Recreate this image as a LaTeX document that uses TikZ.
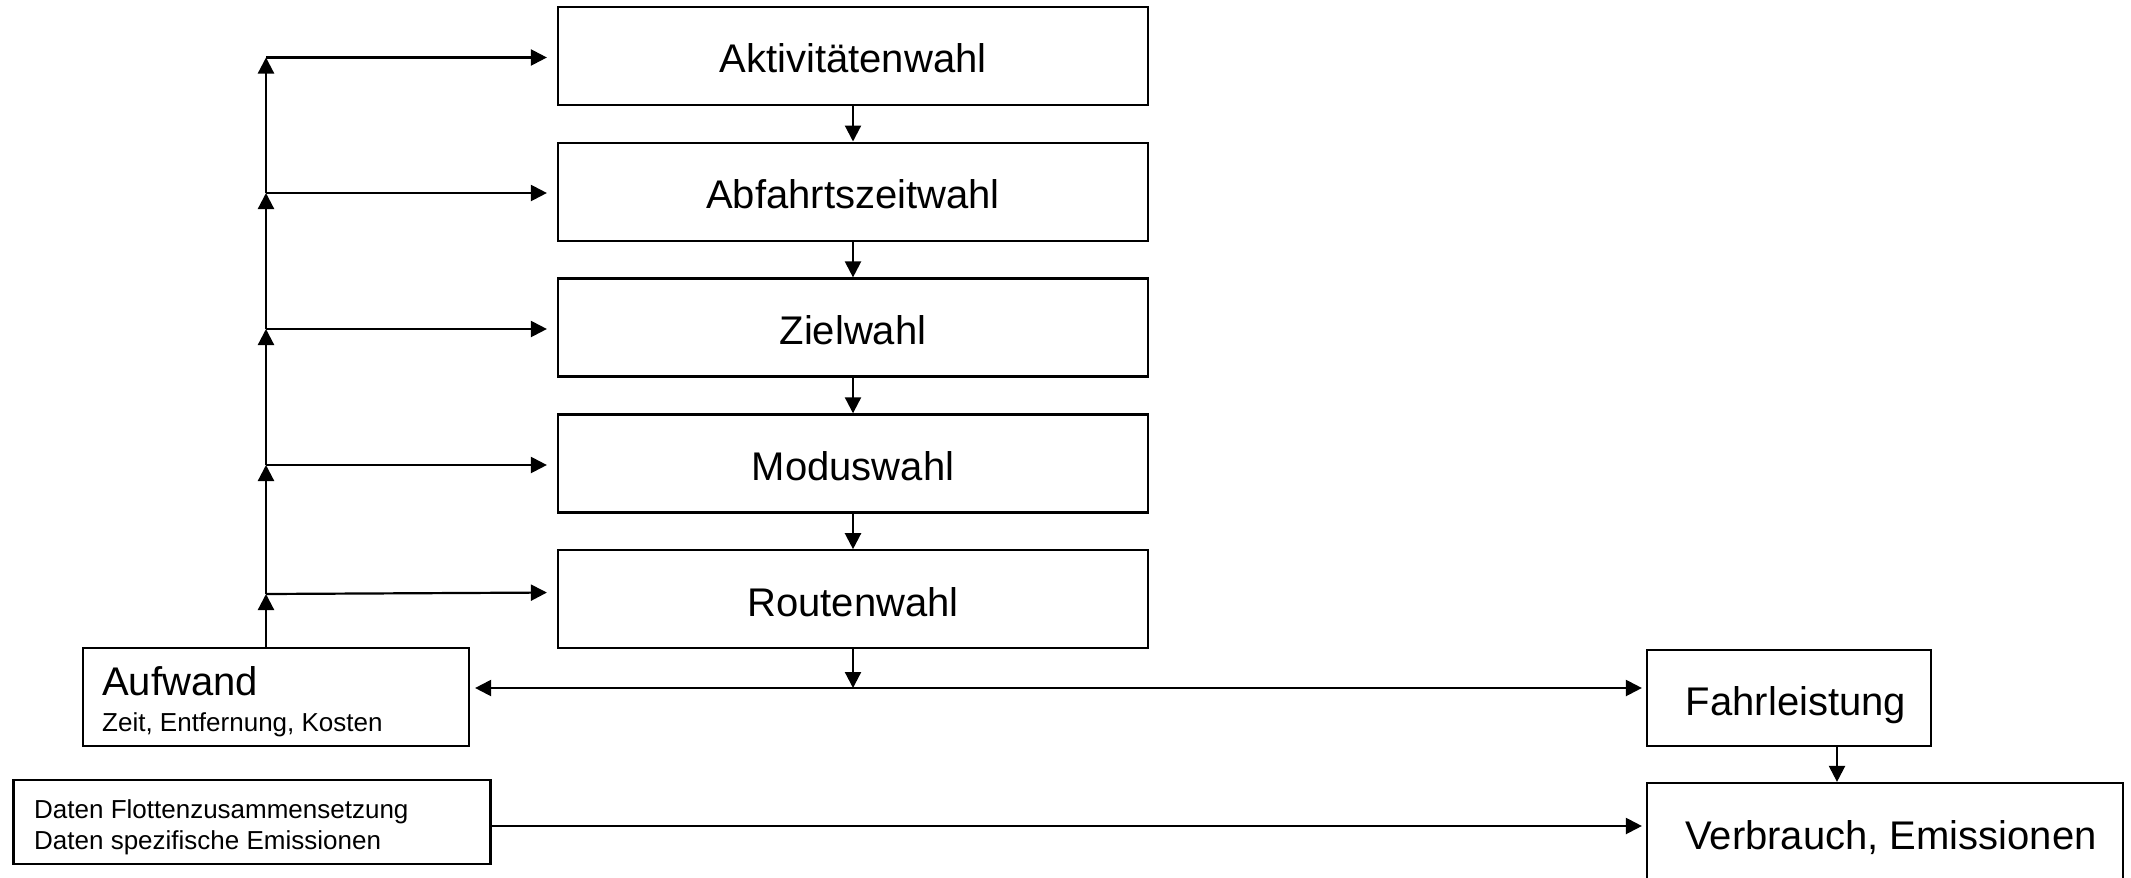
\documentclass[tikz,border=0pt]{standalone}
\usepackage{fontspec}
\setmainfont{Liberation Sans}
\usetikzlibrary{arrows.meta}
\begin{document}
\begin{tikzpicture}[x=1pt,y=-1pt,
  box/.style={draw, line width=2.2pt, inner sep=0pt},
  mainbox/.style={box, minimum width=590pt, minimum height=98pt, font=\fontsize{40}{48}\selectfont, text height=34pt, text depth=0pt},
  big/.style={font=\fontsize{40}{48}\selectfont, inner sep=0pt},
  small/.style={font=\fontsize{26}{31}\selectfont, inner sep=0pt},
  tip/.tip={Triangle[length=16pt,width=16pt]},
  arr/.style={line width=2.2pt, -tip},
  darr/.style={line width=2.2pt, tip-tip}]
\useasboundingbox (0,0) rectangle (2131,878);
\fill[white] (0,0) rectangle (2131,878);
% main chain
\node[mainbox] (act) at (853,55.7) {Aktivitätenwahl};
\node[mainbox] (abf) at (853,191.6) {Abfahrtszeitwahl};
\node[mainbox] (ziel) at (853,327.5) {Zielwahl};
\node[mainbox] (mod) at (853,463.4) {Moduswahl};
\node[mainbox] (route) at (853,599.3) {Routenwahl};
\draw[arr] (act) -- (abf);
\draw[arr] (abf) -- (ziel);
\draw[arr] (ziel) -- (mod);
\draw[arr] (mod) -- (route);
% Aufwand
\node[box, minimum width=386pt, minimum height=98pt] (aufw) at (276,697) {};
\node[big, anchor=base west] (aufwt) at (102,695) {Aufwand};
\node[small, anchor=base west] (aufws) at (102,731) {Zeit, Entfernung, Kosten};
% Fahrleistung
\node[box, minimum width=284pt, minimum height=96pt] (fahr) at (1789,698) {};
\node[big, anchor=base] (fahrt) at (1796,715) {Fahrleistung};
% Verbrauch
\node[box, minimum width=476pt, minimum height=102pt] (verb) at (1885,834) {};
\node[big, anchor=base] (verbt) at (1891,849) {Verbrauch, Emissionen};
% Daten
\node[box, minimum width=477pt, minimum height=84pt] (daten) at (252,822) {};
\node[small, anchor=base west] (dat1) at (34,818) {Daten Flottenzusammensetzung};
\node[small, anchor=base west] (dat2) at (34,849) {Daten spezifische Emissionen};
% left feedback column
\coordinate (j1) at (266,57.5);
\coordinate (j2) at (266,193);
\coordinate (j3) at (266,329);
\coordinate (j4) at (266,465);
\coordinate (j5) at (266,594);
\draw[arr] (aufw.north -| j5) -- (j5);
\draw[arr] (j5) -- (j4);
\draw[arr] (j4) -- (j3);
\draw[arr] (j3) -- (j2);
\draw[arr] (j2) -- (j1);
\draw[arr, shorten >=10pt] (j1) -- (j1 -| act.west);
\draw[arr, shorten >=10pt] (j2) -- (j2 -| abf.west);
\draw[arr, shorten >=10pt] (j3) -- (j3 -| ziel.west);
\draw[arr, shorten >=10pt] (j4) -- (j4 -| mod.west);
\draw[arr, shorten >=10pt] (j5) -- ([yshift=1.5pt]j5 -| route.west);
% horizontal double arrow
\coordinate (hy) at (0,688);
\draw[darr, shorten <=5pt, shorten >=4pt] (aufw.east |- hy) -- (fahr.west |- hy);
\draw[arr] (route.south) -- (route.south |- hy);
% Fahrleistung to Verbrauch
\coordinate (vx) at (1837,0);
\draw[arr] (fahr.south -| vx) -- (verb.north -| vx);
% Daten to Verbrauch
\coordinate (dy) at (0,826);
\draw[arr, shorten >=4pt] (daten.east |- dy) -- (verb.west |- dy);
\end{tikzpicture}
\end{document}
